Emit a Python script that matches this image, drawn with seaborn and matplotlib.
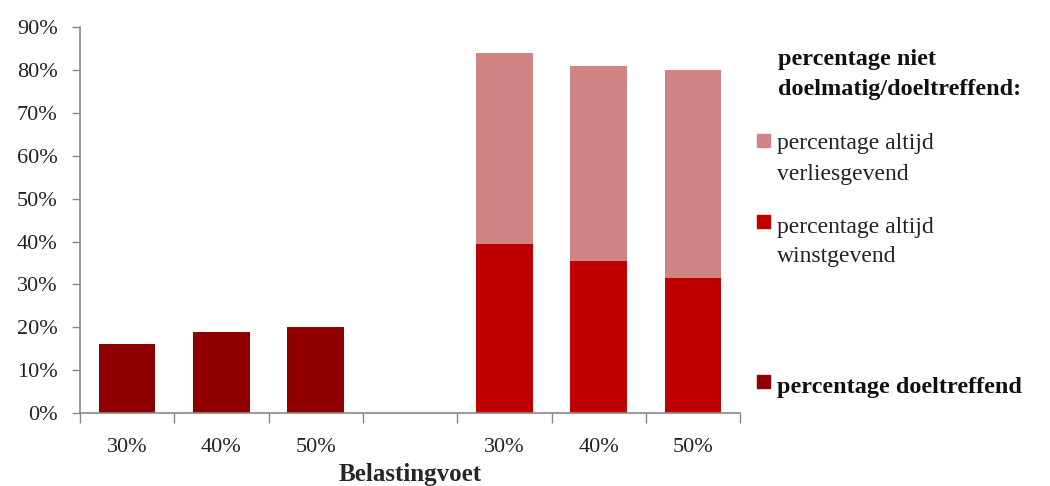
import matplotlib
matplotlib.use("Agg")
import matplotlib.pyplot as plt
from matplotlib.patches import Rectangle
import seaborn as sns
import pandas as pd

# Data
tax_labels = ["30%", "40%", "50%"]
doeltreffend = [16, 19, 20]
altijd_winst = [39.5, 35.5, 31.5]
altijd_verlies = [44.5, 45.5, 48.5]
y_ticks = [0, 10, 20, 30, 40, 50, 60, 70, 80, 90]

legend_title = ["percentage niet", "doelmatig/doeltreffend:"]
lab_verlies = ["percentage altijd", "verliesgevend"]
lab_winst = ["percentage altijd", "winstgevend"]
lab_doel = ["percentage doeltreffend"]
x_title = "Belastingvoet"

c_doel = "#900000"
c_winst = "#C00000"
c_verlies = "#D08484"

sns.set_theme(style="white")
plt.rcParams["font.family"] = ["Liberation Serif", "DejaVu Serif"]

keys_d = ["d" + t for t in tax_labels]
keys_n = ["n" + t for t in tax_labels]
order = keys_d + ["gap"] + keys_n

df_d = pd.DataFrame({"key": keys_d, "val": doeltreffend})
totals = [w + v for w, v in zip(altijd_winst, altijd_verlies)]
df_tot = pd.DataFrame({"key": keys_n, "val": totals})
df_w = pd.DataFrame({"key": keys_n, "val": altijd_winst})

fig = plt.figure(figsize=(10.5, 4.86), dpi=100)
ax = fig.add_axes([0.076, 0.150, 0.629, 0.794])

kw = dict(order=order, width=0.6, linewidth=0, errorbar=None, ax=ax)
sns.barplot(data=df_d, x="key", y="val", color=c_doel, saturation=1, **kw)
sns.barplot(data=df_tot, x="key", y="val", color=c_verlies, saturation=1, **kw)
sns.barplot(data=df_w, x="key", y="val", color=c_winst, saturation=1, **kw)

tick_fs = 16
ax.set_ylim(0, 90)
ax.set_xlim(-0.5, len(order) - 0.5)
ax.set_yticks(y_ticks)
ax.set_yticklabels([f"{v}%" for v in y_ticks], fontsize=tick_fs, color="#222222")
ax.set_xticks(range(len(order)))
ax.set_xticklabels(tax_labels + [""] + tax_labels, fontsize=tick_fs, color="#222222")
ax.set_xticks([i - 0.5 for i in range(len(order) + 1)], minor=True)
ax.tick_params(axis="x", which="major", length=0, pad=18)
ax.tick_params(axis="x", which="minor", length=7, width=1, color="#888888", direction="out", bottom=True)
ax.tick_params(axis="y", length=6, width=1, color="#888888", direction="out", left=True, pad=10)
ax.set_xlabel(x_title, fontsize=18, fontweight="bold", labelpad=4)
ax.set_ylabel("")
for s in ["top", "right"]:
    ax.spines[s].set_visible(False)
for s in ["left", "bottom"]:
    ax.spines[s].set_color("#888888")
    ax.spines[s].set_linewidth(1.2)

# Legend (manual)
W, H = 1050, 486
def fx(px):
    return px / W
def fy(py):
    return 1 - py / H

for line, yc in zip(legend_title, [60, 90]):
    fig.text(fx(778), fy(yc), line, fontsize=17.5, fontweight="bold",
             va="center", ha="left", color="#111111")
entries = [(c_verlies, lab_verlies, [144, 174], False, 134),
           (c_winst, lab_winst, [227, 256], False, 215),
           (c_doel, lab_doel, [387], True, 375)]
for col, lines, ycs, bold, ptop in entries:
    fig.patches.append(Rectangle((fx(757), fy(ptop + 13)), 13 / W, 13 / H,
                                 transform=fig.transFigure, color=col, figure=fig))
    for line, yc in zip(lines, ycs):
        fig.text(fx(777), fy(yc), line, fontsize=17.5 if bold else 17,
                 fontweight="bold" if bold else "normal",
                 va="center", ha="left", color="#222222" if not bold else "#111111")

fig.savefig("out.png", dpi=100)
